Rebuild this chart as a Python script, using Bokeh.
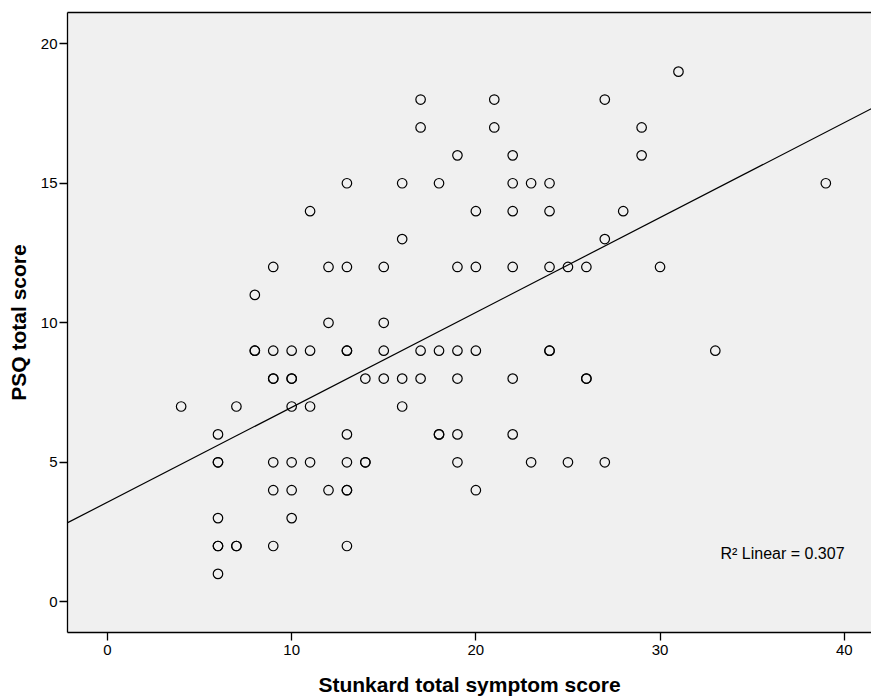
from bokeh.plotting import figure
from bokeh.models import Range1d, Slope, Label, LinearAxis, FixedTicker, ColumnDataSource
from bokeh.embed import file_html
from bokeh.resources import INLINE

# Stunkard total symptom score (x) and PSQ total score (y)
stunkard = [
    31,
    17, 21, 27,
    17, 21, 29,
    19, 22, 29,
    13, 16, 18, 22, 23, 24, 39,
    11, 20, 22, 24, 28,
    16, 27,
    9, 12, 13, 15, 19, 20, 22, 24, 25, 26, 30,
    8,
    12, 15,
    8, 8, 9, 10, 11, 13, 13, 15, 17, 18, 19, 20, 24, 24, 33,
    9, 9, 10, 10, 14, 15, 16, 17, 19, 22, 26, 26,
    4, 7, 10, 11, 16,
    6, 13, 18, 18, 19, 22,
    6, 6, 9, 10, 11, 13, 14, 14, 19, 23, 25, 27,
    9, 10, 12, 13, 13, 20,
    6, 10,
    6, 6, 7, 7, 9, 13,
    6,
]
psq = [
    19,
    18, 18, 18,
    17, 17, 17,
    16, 16, 16,
    15, 15, 15, 15, 15, 15, 15,
    14, 14, 14, 14, 14,
    13, 13,
    12, 12, 12, 12, 12, 12, 12, 12, 12, 12, 12,
    11,
    10, 10,
    9, 9, 9, 9, 9, 9, 9, 9, 9, 9, 9, 9, 9, 9, 9,
    8, 8, 8, 8, 8, 8, 8, 8, 8, 8, 8, 8,
    7, 7, 7, 7, 7,
    6, 6, 6, 6, 6, 6,
    5, 5, 5, 5, 5, 5, 5, 5, 5, 5, 5, 5,
    4, 4, 4, 4, 4, 4,
    3, 3,
    2, 2, 2, 2, 2, 2,
    1,
]

# Linear fit
fit_intercept = 3.57
fit_slope = 0.34
r2_text = "R\u00b2 Linear = 0.307"

x_ticks = [0, 10, 20, 30, 40]
y_ticks = [0, 5, 10, 15, 20]

p = figure(
    width=871, height=700,
    x_range=Range1d(-2.17, 41.48), y_range=Range1d(-1.10, 21.12),
    output_backend="svg", toolbar_location=None,
    min_border_left=67, min_border_top=12, min_border_bottom=68, min_border_right=0,
    x_axis_label="Stunkard total symptom score", y_axis_label="PSQ total score",
)
p.background_fill_color = "#f0f0f0"
p.border_fill_color = "white"
p.outline_line_color = None
p.xgrid.visible = False
p.ygrid.visible = False

for ax, ticks in ((p.xaxis[0], x_ticks), (p.yaxis[0], y_ticks)):
    ax.ticker = FixedTicker(ticks=ticks)
    ax.minor_tick_line_color = None
    ax.major_tick_in = 0
    ax.major_tick_out = 8
    ax.major_tick_line_color = "black"
    ax.axis_line_color = "black"
    ax.axis_line_width = 1.3
    ax.major_tick_line_width = 1.3
    ax.major_label_text_font = "Liberation Sans"
    ax.major_label_text_font_size = "15px"
    ax.major_label_text_color = "black"
    ax.axis_label_text_font = "Liberation Sans"
    ax.axis_label_text_font_style = "bold"
    ax.axis_label_text_font_size = "21px"
    ax.axis_label_text_color = "black"

p.xaxis[0].major_label_standoff = 4
p.xaxis[0].axis_label_standoff = 15
p.yaxis[0].major_label_standoff = 2
p.yaxis[0].axis_label_standoff = 8

top = LinearAxis(ticker=FixedTicker(ticks=[]), axis_line_color="black", axis_line_width=1.3,
                 major_tick_in=0, major_tick_out=0, minor_tick_in=0, minor_tick_out=0,
                 major_label_text_font_size="0px", major_label_standoff=0)
p.add_layout(top, "above")

src = ColumnDataSource(dict(x=stunkard, y=psq))
p.scatter("x", "y", source=src, size=9.5, fill_color=None, line_color="black", line_width=1.2)

p.add_layout(Slope(gradient=fit_slope, y_intercept=fit_intercept, line_color="black", line_width=1.2))

p.add_layout(Label(x=33.28, y=1.73, text=r2_text, text_font="Liberation Sans",
                   text_font_size="16px", text_color="black", text_baseline="alphabetic"))

open("out.html", "w").write(file_html(p, INLINE))
